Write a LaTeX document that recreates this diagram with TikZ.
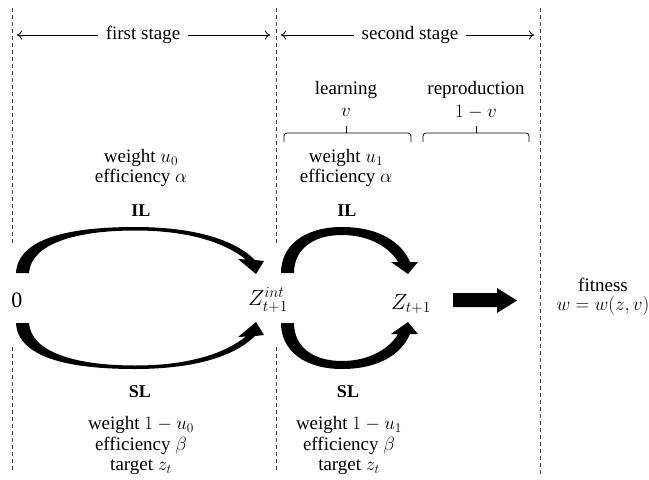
\RequirePackage{fix-cm}
\documentclass[tikz,border=0pt]{standalone}
\usepackage{amsmath}
\usepackage{fontspec}
\setmainfont{Liberation Serif}
\usetikzlibrary{arrows.meta}
\begin{document}
\begin{tikzpicture}[x=1pt,y=-1pt,
  font=\fontsize{19}{22}\selectfont,
  dashline/.style={draw=black!75, line width=0.8pt, dash pattern=on 4pt off 3pt},
  lbl/.style={inner sep=0pt, anchor=center},
  boldlbl/.style={lbl, font=\fontsize{18}{22}\selectfont\bfseries},
  statelbl/.style={lbl, font=\fontsize{22}{26}\selectfont},
  thinarrow/.style={-{To[length=5pt,width=9pt]}, line width=0.8pt},
  bracepath/.style={line width=0.8pt, rounded corners=3pt},
  curvearrow/.style={fill=black}]
\useasboundingbox (0,0) rectangle (649,480);

% dashed separators
\draw[dashline] (12,8) -- (12,243);
\draw[dashline] (12,347) -- (12,473);
\draw[dashline] (276,8) -- (276,243);
\draw[dashline] (276,347) -- (276,473);
\draw[dashline] (540,8) -- (540,476);

% stage labels
\node[lbl] (fs) at (143,35) {first stage};
\node[lbl] (ss) at (410,35) {second stage};
\coordinate (fsL) at (17,35);
\coordinate (fsR) at (270,35);
\coordinate (ssL) at (281,35);
\coordinate (ssR) at (534,35);
\draw[thinarrow] ([xshift=-8pt]fs.west) -- (fsL);
\draw[thinarrow] ([xshift=8pt]fs.east) -- (fsR);
\draw[thinarrow] ([xshift=-8pt]ss.west) -- (ssL);
\draw[thinarrow] ([xshift=8pt]ss.east) -- (ssR);

% learning / reproduction
\node[lbl] (learn) at (346,90) {learning};
\node[lbl] (lv) at (346,112) {$v$};
\node[lbl] (repr) at (476,90) {reproduction};
\node[lbl] (rv) at (476,112) {$1-v$};
\draw[bracepath] (284,142) |- (411,133) -- (411,142);
\draw[line width=0.8pt] (346,133) -- (346,126);
\draw[bracepath] (423,142) |- (529,133) -- (529,142);
\draw[line width=0.8pt] (476,133) -- (476,126);

% upper labels
\node[lbl] (w0) at (141,158) {weight $u_0$};
\node[lbl] (e0) at (141,178) {efficiency $\alpha$};
\node[boldlbl] (il0) at (141,211) {IL};
\node[lbl] (w1) at (346,158) {weight $u_1$};
\node[lbl] (e1) at (346,178) {efficiency $\alpha$};
\node[boldlbl] (il1) at (347,211) {IL};

% lower labels
\node[boldlbl] (sl0) at (140,392) {SL};
\node[lbl] (ww0) at (141,425) {weight $1-u_0$};
\node[lbl] (ee0) at (141,446) {efficiency $\beta$};
\node[lbl] (tt0) at (141,467) {target $z_t$};
\node[boldlbl] (sl1) at (348,392) {SL};
\node[lbl] (ww1) at (349,425) {weight $1-u_1$};
\node[lbl] (ee1) at (349,446) {efficiency $\beta$};
\node[lbl] (tt1) at (349,467) {target $z_t$};

% states
\node[statelbl] (zero) at (17,300) {0};
\node[statelbl] (zint) at (268,300) {$Z_{t+1}^{int}$};
\node[statelbl] (znext) at (411,304) {$Z_{t+1}$};
\node[lbl] (fit) at (603,285) {fitness};
\node[lbl] (wfun) at (603,306) {$w=w(z,v)$};

% curved arrows
\fill[curvearrow] (16,273) .. controls (18,238) and (70,227) .. (135,227)
  .. controls (195,227) and (235,240) .. (255,260) -- (264,261) -- (256,274)
  -- (238,259) -- (246,259.5) .. controls (225,243) and (190,230.5) .. (135,230.5)
  .. controls (75,230.5) and (31,244) .. (29,273) -- cycle;
\fill[curvearrow] (16,323) .. controls (18,358) and (70,369) .. (135,369)
  .. controls (195,369) and (235,356) .. (255,336) -- (264,335) -- (256,322)
  -- (238,337) -- (246,336.5) .. controls (225,353) and (190,365.5) .. (135,365.5)
  .. controls (75,365.5) and (31,352) .. (29,323) -- cycle;
\fill[curvearrow] (281,273) .. controls (281,245) and (305,227) .. (342,227)
  .. controls (380,227) and (402,243) .. (410,262) -- (418,262) -- (408,274)
  -- (391,262) -- (398,262) .. controls (390,248) and (370,235) .. (342,235)
  .. controls (312,235) and (294,250) .. (294,273) -- cycle;
\fill[curvearrow] (281,323) .. controls (281,351) and (305,369) .. (342,369)
  .. controls (380,369) and (402,353) .. (410,334) -- (418,334) -- (408,322)
  -- (391,334) -- (398,334) .. controls (390,348) and (370,361) .. (342,361)
  .. controls (312,361) and (294,346) .. (294,323) -- cycle;

% big arrow
\fill[curvearrow] (453,293) -- (497,293) -- (497,288) -- (517,300.5)
  -- (497,313) -- (497,307) -- (453,307) -- cycle;
\end{tikzpicture}
\end{document}
